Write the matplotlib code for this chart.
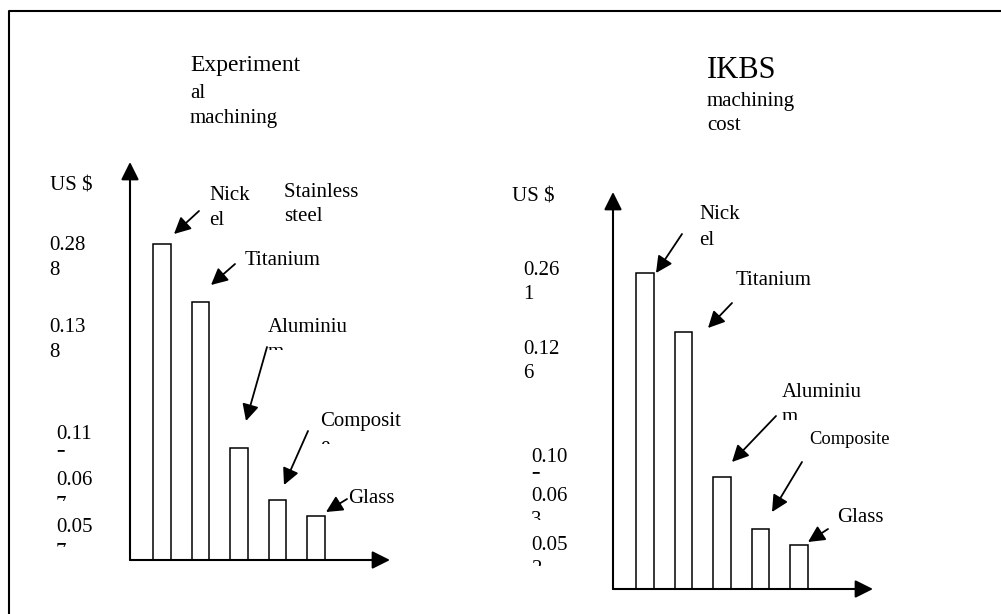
import matplotlib
matplotlib.use('Agg')
import matplotlib.pyplot as plt
from matplotlib.patches import Rectangle, FancyArrowPatch
from matplotlib.lines import Line2D

# Data
materials = ['Nickel', 'Titanium', 'Aluminium', 'Composite', 'Glass']
exp_cost = ['0.288', '0.138', '0.115', '0.067', '0.057']
ikbs_cost = ['0.261', '0.126', '0.105', '0.063', '0.052']
# bar heights as drawn in the sketch (not to scale), sketch units
exp_height = [316, 258, 112, 60, 44]
ikbs_height = [316, 257, 112, 60, 44]

W, H = 1001, 614
plt.rcParams['font.family'] = ['Liberation Serif', 'DejaVu Serif']
fig = plt.figure(figsize=(W / 100, H / 100), dpi=100)


def fx(x):
    return x / W


def fy(y):
    return 1 - y / H


def put(x, y, s, size=15, clip=None):
    t = fig.text(fx(x), fy(y), s, fontsize=size, ha='left', va='baseline')
    if clip is not None:
        # hide everything below the clip line (text cut off in the source)
        t.set_clip_path(Rectangle((0, fy(clip)), 1, 1, transform=fig.transFigure))
    return t


def wrapped(x, y, s, width, size=15, step=25, clip=None):
    lines = [s[i:i + width] for i in range(0, len(s), width)]
    for k, line in enumerate(lines):
        c = None
        if k > 0 and clip is not None:
            c = y + clip
        put(x, y + k * step, line, size, c)


def arrow(x0, y0, x1, y1, lw=1.3, ms=25):
    fig.add_artist(FancyArrowPatch((fx(x0), fy(y0)), (fx(x1), fy(y1)),
                                   transform=fig.transFigure, arrowstyle='-|>',
                                   mutation_scale=ms, lw=lw, color='k',
                                   shrinkA=0, shrinkB=0))


# page border (left and top edges only are visible)
fig.add_artist(Line2D([fx(9), fx(9), fx(1001)], [fy(614), fy(11), fy(11)],
                      transform=fig.transFigure, color='k', lw=1.5))


def panel(x0, y0, h, heights):
    ax = fig.add_axes([fx(x0), fy(y0), 260 / W, h / H])
    ax.bar(range(len(heights)), heights, width=0.455, color='white',
           edgecolor='black', lw=1.1)
    ax.set_xlim(-0.831, 5.922)
    ax.set_ylim(0, h)
    ax.axis('off')
    ap = dict(arrowstyle='-|>', mutation_scale=27, lw=1.5, color='k',
              shrinkA=0, shrinkB=0)
    ax.annotate('', xy=(0, 1), xytext=(0, 0), xycoords='axes fraction', arrowprops=ap)
    ax.annotate('', xy=(1, 0), xytext=(0, 0), xycoords='axes fraction', arrowprops=ap)
    return ax


# ---- left: experimental machining ----
panel(130, 560, 398, exp_height)
put(190, 71, 'Experiment', 17)
put(190, 98, 'al')
put(190, 123, 'machining')
put(50, 190, 'US $')

tick_xy = [(49, 250), (49, 332), (56, 439), (56, 485), (56, 532)]
tick_clip = [None, None, 13, 16, 15]
for s, (x, y), c in zip(exp_cost, tick_xy, tick_clip):
    wrapped(x, y, s, 4, clip=c)

wrapped(209, 200, materials[0], 4)
wrapped(284, 197, 'Stainless steel', 10, step=24)
put(245, 265, materials[1])
wrapped(268, 332, materials[2], 8, clip=18)
wrapped(320, 426, materials[3], 8, clip=18)
put(348, 503, materials[4])

arrow(199, 211, 174, 234)
arrow(235, 264, 211, 285)
arrow(267, 347, 246, 421)
arrow(308, 431, 284, 485)
arrow(347, 499, 326, 512)

# ---- right: IKBS machining cost ----
panel(613, 589, 397, ikbs_height)
put(707, 78, 'IKBS', 22)
put(707, 106, 'machining')
put(707, 130, 'cost')
put(512, 202, 'US $')

tick_xy = [(523, 275), (523, 354), (531, 462), (531, 501), (531, 550)]
tick_clip = [None, None, 12, 19, 16]
for s, (x, y), c in zip(ikbs_cost, tick_xy, tick_clip):
    wrapped(x, y, s, 4, step=24, clip=c)

wrapped(699, 219, materials[0], 4, step=26)
put(736, 285, materials[1])
wrapped(782, 397, materials[2], 8, clip=23)
put(809, 444, materials[3], 13.3)
put(837, 522, materials[4])

arrow(682, 234, 656, 273)
arrow(732, 303, 708, 328)
arrow(776, 416, 732, 462)
arrow(802, 462, 772, 512)
arrow(828, 529, 808, 542)

fig.savefig('out.png', dpi=100, facecolor='white')
